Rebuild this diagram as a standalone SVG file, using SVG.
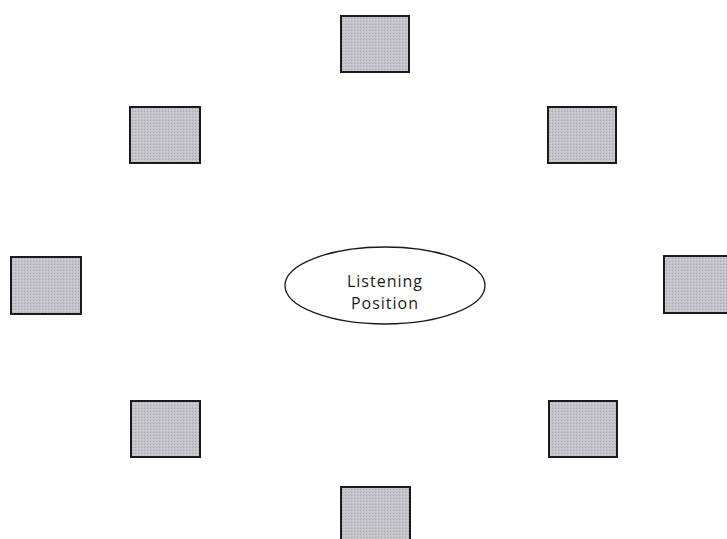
<svg xmlns="http://www.w3.org/2000/svg" width="727" height="539" viewBox="0 0 727 539">
<defs>
<pattern id="dots" width="3" height="3" patternUnits="userSpaceOnUse">
<rect width="3" height="3" fill="#c4c4c8"/>
<rect x="0" y="0" width="1" height="1" fill="#a8a8ae"/>
<rect x="2" y="1" width="1" height="1" fill="#d6d6da"/>
</pattern>
</defs>
<style>
.spk{fill:url(#dots);stroke:#1a1a22;stroke-width:2}
.lp{fill:#ffffff;stroke:#1a1a1a;stroke-width:1.3}
.lbl{font-family:"Open Sans","Liberation Sans",sans-serif;font-size:16px;letter-spacing:1px;fill:#1a1a1a;text-anchor:middle}
</style>
<rect width="727" height="539" fill="#ffffff"/>
<g id="connectors"></g>
<g id="spk-top"><rect class="spk" x="341" y="16" width="68" height="56"/></g>
<g id="spk-top-left"><rect class="spk" x="130" y="107" width="70" height="56"/></g>
<g id="spk-top-right"><rect class="spk" x="548" y="107" width="68" height="56"/></g>
<g id="spk-left"><rect class="spk" x="11" y="257" width="70" height="57"/></g>
<g id="spk-right"><rect class="spk" x="664" y="256" width="70" height="57"/></g>
<g id="spk-bottom-left"><rect class="spk" x="131" y="401" width="69" height="56"/></g>
<g id="spk-bottom-right"><rect class="spk" x="549" y="401" width="68" height="56"/></g>
<g id="spk-bottom"><rect class="spk" x="341" y="487" width="69" height="56"/></g>
<g id="listening-position">
<ellipse class="lp" cx="385" cy="285.5" rx="100" ry="38.5"/>
<text class="lbl" x="385" y="287">Listening</text>
<text class="lbl" x="385" y="309">Position</text>
</g>
</svg>
